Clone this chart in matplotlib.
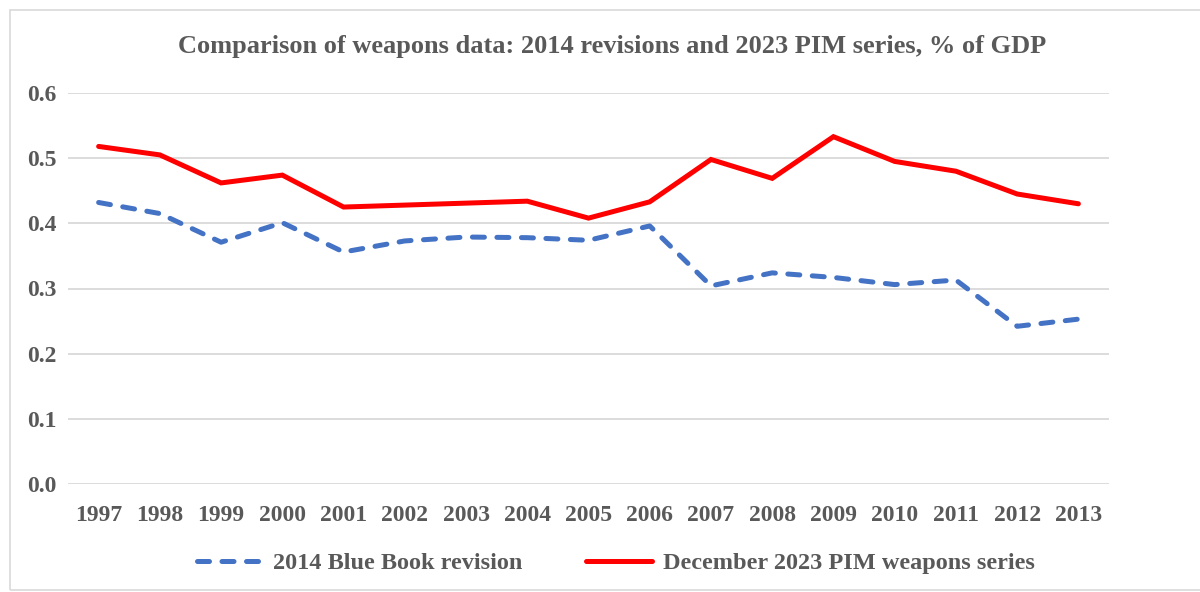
import matplotlib
matplotlib.use('Agg')
import matplotlib.pyplot as plt
from matplotlib.patches import FancyBboxPatch

# Data
years = ['1997', '1998', '1999', '2000', '2001', '2002', '2003', '2004', '2005',
         '2006', '2007', '2008', '2009', '2010', '2011', '2012', '2013']
blue_book_2014 = [0.432, 0.415, 0.371, 0.401, 0.356, 0.373, 0.379, 0.378, 0.374,
                  0.396, 0.304, 0.324, 0.317, 0.306, 0.313, 0.242, 0.253]
pim_2023 = [0.518, 0.505, 0.462, 0.474, 0.425, 0.428, 0.431, 0.434, 0.408,
            0.433, 0.498, 0.469, 0.533, 0.495, 0.480, 0.445, 0.430]
y_ticks = [0.0, 0.1, 0.2, 0.3, 0.4, 0.5, 0.6]

title = 'Comparison of weapons data: 2014 revisions and 2023 PIM series, % of GDP'
label_blue = '2014 Blue Book revision'
label_red = 'December 2023 PIM weapons series'

text_col = '#595959'
grid_col = '#D9D9D9'
plt.rcParams['font.family'] = ['Liberation Serif', 'DejaVu Serif']
plt.rcParams['font.weight'] = 'bold'

fig = plt.figure(figsize=(12, 5.92), dpi=100)
# chart border
border = FancyBboxPatch((10 / 1200, 2 / 592), 1.2, 580 / 592, boxstyle='square,pad=0',
                        transform=fig.transFigure, fill=False, edgecolor=grid_col,
                        linewidth=1.2)
fig.patches.append(border)

ax = fig.add_axes([68 / 1200, 1 - 484 / 592, (1109 - 68) / 1200, (484 - 93) / 592])
x = list(range(len(years)))
ax.plot(x, blue_book_2014, color='#4472C4', linewidth=3.6, linestyle=(0, (2.4, 2.5)),
        dash_capstyle='round', solid_capstyle='round', label=label_blue)
ax.plot(x, pim_2023, color='#FF0000', linewidth=3.6, solid_capstyle='round',
        solid_joinstyle='miter', label=label_red)

ax.set_xlim(-0.5, len(years) - 0.5)
ax.set_ylim(0, 0.6)
ax.set_yticks(y_ticks)
ax.set_yticklabels(['%.1f' % v for v in y_ticks])
ax.set_xticks(x)
ax.set_xticklabels(years)
ax.grid(axis='y', color=grid_col, linewidth=1.3)
ax.set_axisbelow(True)
for s in ax.spines.values():
    s.set_visible(False)
ax.tick_params(axis='both', length=0, labelsize=17, labelcolor=text_col)
ax.tick_params(axis='x', pad=15)
ax.tick_params(axis='y', pad=8)

fig.text(0.51, 1 - 46 / 592, title, ha='center', va='center', fontsize=19,
         color=text_col, fontweight='bold')

fig.legend(loc='center', bbox_to_anchor=(0.513, 1 - 563 / 592), ncol=2, frameon=False,
           fontsize=17.5, labelcolor=text_col, handlelength=2.7, columnspacing=2.6,
           handletextpad=0.45)

fig.savefig('out.png', dpi=100)
